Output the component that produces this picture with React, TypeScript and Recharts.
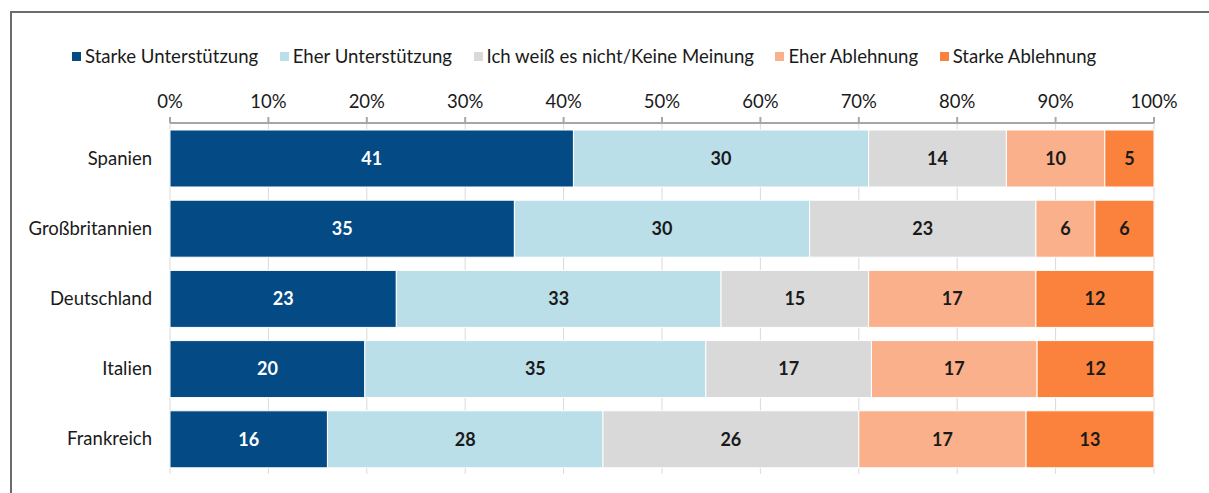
import React from 'react';
import { BarChart, Bar, XAxis, YAxis, CartesianGrid, LabelList } from 'recharts';

const categories = ['Spanien', 'Großbritannien', 'Deutschland', 'Italien', 'Frankreich'];
const starkeUnterstuetzung = [41, 35, 23, 20, 16];
const eherUnterstuetzung = [30, 30, 33, 35, 28];
const weissNicht = [14, 23, 15, 17, 26];
const eherAblehnung = [10, 6, 17, 17, 17];
const starkeAblehnung = [5, 6, 12, 12, 13];

const seriesNames = [
  'Starke Unterstützung',
  'Eher Unterstützung',
  'Ich weiß es nicht/Keine Meinung',
  'Eher Ablehnung',
  'Starke Ablehnung',
];
const seriesKeys = ['s1', 's2', 's3', 's4', 's5'];
const seriesValues = [starkeUnterstuetzung, eherUnterstuetzung, weissNicht, eherAblehnung, starkeAblehnung];
const colors = ['#044A84', '#BBDFE9', '#D9D9D9', '#FAB08A', '#FA823C'];
const labelColors = ['#FFFFFF', '#1A1A1A', '#1A1A1A', '#1A1A1A', '#1A1A1A'];
const tickValues = [0, 0.1, 0.2, 0.3, 0.4, 0.5, 0.6, 0.7, 0.8, 0.9, 1];

const data = categories.map((c, i) => {
  const row: Record<string, string | number> = { name: c };
  seriesKeys.forEach((k, j) => {
    row[k] = seriesValues[j][i];
  });
  return row;
});

const FONT = 'Lato, "Open Sans", sans-serif';

export default function App() {
  return (
    <div
      style={{
        position: 'fixed',
        left: 0,
        top: 0,
        width: 1209,
        height: 493,
        background: '#fff',
        fontFamily: FONT,
        overflow: 'hidden',
      }}
    >
      <div
        style={{
          position: 'absolute',
          left: 10,
          top: 11,
          width: 1300,
          height: 600,
          borderLeft: '2px solid #6b6b6b',
          borderTop: '2px solid #6b6b6b',
          boxSizing: 'border-box',
        }}
      />
      <div
        style={{
          position: 'absolute',
          left: 72,
          top: 45,
          display: 'flex',
          alignItems: 'center',
          fontSize: 18.6,
          color: '#1a1a1a',
          whiteSpace: 'nowrap',
        }}
      >
        {seriesNames.map((n, i) => (
          <div key={n} style={{ display: 'flex', alignItems: 'center', marginRight: 21.5 }}>
            <span style={{ display: 'inline-block', width: 9, height: 9, background: colors[i], marginRight: 4 }} />
            <span>{n}</span>
          </div>
        ))}
      </div>
      <div style={{ position: 'absolute', left: 0, top: 0 }}>
        <BarChart
          width={1209}
          height={493}
          data={data}
          layout="vertical"
          stackOffset="expand"
          margin={{ top: 93, right: 55, bottom: 19, left: 10 }}
          barSize={57}
        >
          <CartesianGrid horizontal={false} stroke="#d9d9d9" strokeWidth={1} />
          <XAxis
            type="number"
            orientation="top"
            domain={[0, 1]}
            ticks={tickValues}
            tickFormatter={(v: number) => `${Math.round(v * 100)}%`}
            height={30}
            axisLine={{ stroke: '#a6a6a6', strokeWidth: 2 }}
            tickLine={{ stroke: '#a6a6a6', strokeWidth: 2 }}
            tickSize={6}
            tickMargin={9}
            tick={{ fill: '#1a1a1a', fontSize: 18.5, fontFamily: FONT }}
            interval={0}
          />
          <YAxis
            type="category"
            dataKey="name"
            width={160}
            axisLine={false}
            tickLine={false}
            tickSize={0}
            tickMargin={18}
            tick={{ fill: '#1a1a1a', fontSize: 18.5, fontFamily: FONT }}
          />
          {seriesKeys.map((k, i) => (
            <Bar
              key={k}
              dataKey={k}
              name={seriesNames[i]}
              stackId="a"
              fill={colors[i]}
              stroke="#ffffff"
              strokeWidth={1}
              isAnimationActive={false}
            >
              <LabelList
                dataKey={k}
                position="center"
                fill={labelColors[i]}
                style={{ fontSize: 18, fontWeight: 700, fontFamily: FONT }}
              />
            </Bar>
          ))}
        </BarChart>
      </div>
    </div>
  );
}
